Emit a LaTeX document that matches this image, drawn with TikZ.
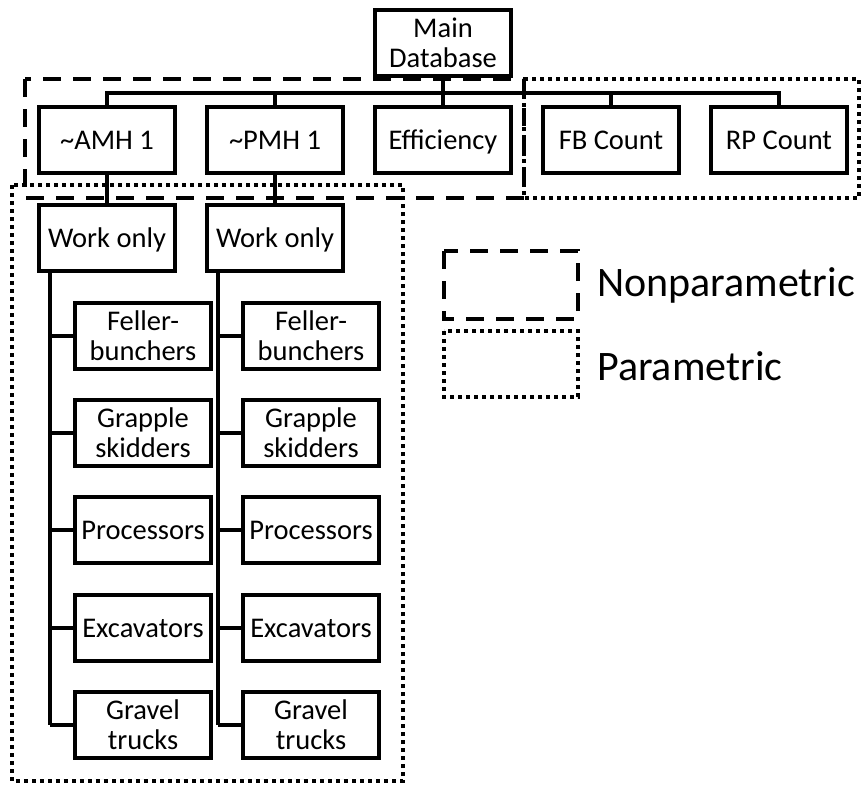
\documentclass[tikz,border=0pt]{standalone}
\usepackage{fontspec}
\setmainfont{Carlito}
\usetikzlibrary{positioning}
\tikzset{
  box/.style={draw=black, line width=4pt, fill=white, minimum width=136pt, minimum height=66pt, inner sep=2pt, align=center, font=\fontsize{28.5}{30}\selectfont},
  one/.style={box, text height=18pt, text depth=0pt},
  ln/.style={draw=black, line width=3.5pt},
  nonparm/.style={draw=black, line width=4pt, dash pattern=on 18pt off 12pt},
  parm/.style={draw=black, line width=4pt, dash pattern=on 4pt off 4pt},
  lgd/.style={font=\fontsize{42}{48}\selectfont, anchor=west, inner sep=0pt}
}
\begin{document}
\begin{tikzpicture}[x=1pt, y=-1pt]
    \useasboundingbox (0,0) rectangle (862,785);
    % top level
    \node[box] (main) at (443,43) {Main\\Database};
    \node[one] (amh) at (107,140) {\textasciitilde AMH 1};
    \node[one] (pmh) at (275,140) {\textasciitilde PMH 1};
    \node[one] (eff) at (443,140) {Efficiency};
    \node[one] (fbc) at (611,140) {FB Count};
    \node[one] (rpc) at (779,140) {RP Count};
    \coordinate (bus) at (0,93);
    \draw[ln] (main.south) -- (main.south |- bus);
    \draw[ln] (amh.north) -- (amh.north |- bus) -| (rpc.north);
    \draw[ln] (pmh.north) -- (pmh.north |- bus);
    \draw[ln] (eff.north) -- (eff.north |- bus);
    \draw[ln] (fbc.north) -- (fbc.north |- bus);
    % work only
    \node[one] (wl) at (107,238) {Work only};
    \node[one] (wr) at (275,238) {Work only};
    \draw[ln] (amh) -- (wl);
    \draw[ln] (pmh) -- (wr);
    \coordinate (tl) at ([xshift=13pt]wl.south west);
    \coordinate (tr) at ([xshift=13pt]wr.south west);
    % machines
    \foreach \y/\txt/\nm in {336/{Feller-\\bunchers}/fb, 433/{Grapple\\skidders}/gs,
        530/Processors/pr, 628/Excavators/ex, 725/{Gravel\\trucks}/gt} {
      \node[box] (\nm l) at (143,\y) {\txt};
      \node[box] (\nm r) at (311,\y) {\txt};
      \draw[ln] (\nm l.west) -- (\nm l.west -| tl);
      \draw[ln] (\nm r.west) -- (\nm r.west -| tr);
    }
    \draw[ln] (tl) -- (tl |- gtl.west);
    \draw[ln] (tr) -- (tr |- gtr.west);
    % regions
    \draw[nonparm] (25,79) rectangle (524,198);
    \draw[parm] (524,79) rectangle (859,198);
    \draw[parm] (12,185) rectangle (403,781);
    % legend
    \draw[nonparm] (444,251) rectangle (578,319);
    \draw[parm] (444,331) rectangle (578,397);
    \node[lgd] (np) at (597,285) {Nonparametric};
    \node[lgd] (pa) at (597,366) {Parametric};
  \end{tikzpicture}
\end{document}
